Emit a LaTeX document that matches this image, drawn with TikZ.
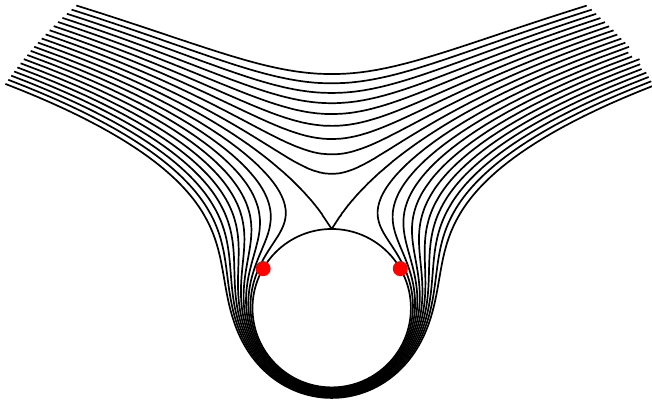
\documentclass[tikz,border=0pt]{standalone}
\begin{document}
\begin{tikzpicture}[x=39.6pt,y=39.6pt,
  curve/.style={line width=0.85pt,black,line join=round},
  reddot/.style={fill=red},
  declare function={
    ss(\R,\C)=min(1,max(-1,(\C+2*ln(\R))/(\R-1/\R)));
    px(\R,\C,\G)=ifthenelse(\G<0,-1,1)*\R*cos(asin(ss(\R,\C)));
    py(\R,\C)=\R*ss(\R,\C);
  }]
\useasboundingbox (-4.1881,-1.1591) rectangle (4.0442,3.8914);
\clip (-4.1881,-1.1591) rectangle (4.0442,3.8914);
% streamlines passing over the cylinder
\foreach \mv/\cv in {1.6970/0.05,1.9436/0.10,2.1362/0.15,2.3020/0.20,2.4510/0.25,2.5884/0.30,2.7173/0.35,2.8393/0.40,2.9559/0.45}{
  \pgfmathsetmacro\T{sqrt(5-\mv)}
  \draw[curve] plot[variable=\t,domain=-\T:\T,samples=141]
    ({px(\mv+\t*\t,\cv,\t)},{py(\mv+\t*\t,\cv)});
}
% streamlines wrapping under the cylinder
\foreach \ev/\cv in {0.01258/-0.05,0.02531/-0.10,0.0382/-0.15,0.05126/-0.20,0.06447/-0.25,0.07782/-0.30,0.09138/-0.35,0.10509/-0.40,0.11896/-0.45,0.13296/-0.50}{
  \pgfmathsetmacro\T{sqrt(ln(4/\ev))}
  \draw[curve] plot[variable=\t,domain=-\T:\T,samples=241]
    ({px(1+\ev*exp(\t*\t),\cv,\t)},{py(1+\ev*exp(\t*\t),\cv)});
}
% dividing streamline with the stagnation point on top
\coordinate (cusp) at (0,1);
\draw[curve] plot[variable=\t,domain=-2:-0.4,samples=80]
    ({px(1+\t*\t,0,-1)},{py(1+\t*\t,0)}) -- (cusp) --
  plot[variable=\t,domain=0.4:2,samples=80]
    ({px(1+\t*\t,0,1)},{py(1+\t*\t,0)});
% cylinder
\coordinate (o) at (0,0);
\draw[curve] (o) circle[radius=1];
% marked points
\coordinate (pl) at (150:1);
\coordinate (pr) at (30:1);
\fill[reddot] (pl) circle[radius=0.0947];
\fill[reddot] (pr) circle[radius=0.0947];
\end{tikzpicture}
\end{document}
